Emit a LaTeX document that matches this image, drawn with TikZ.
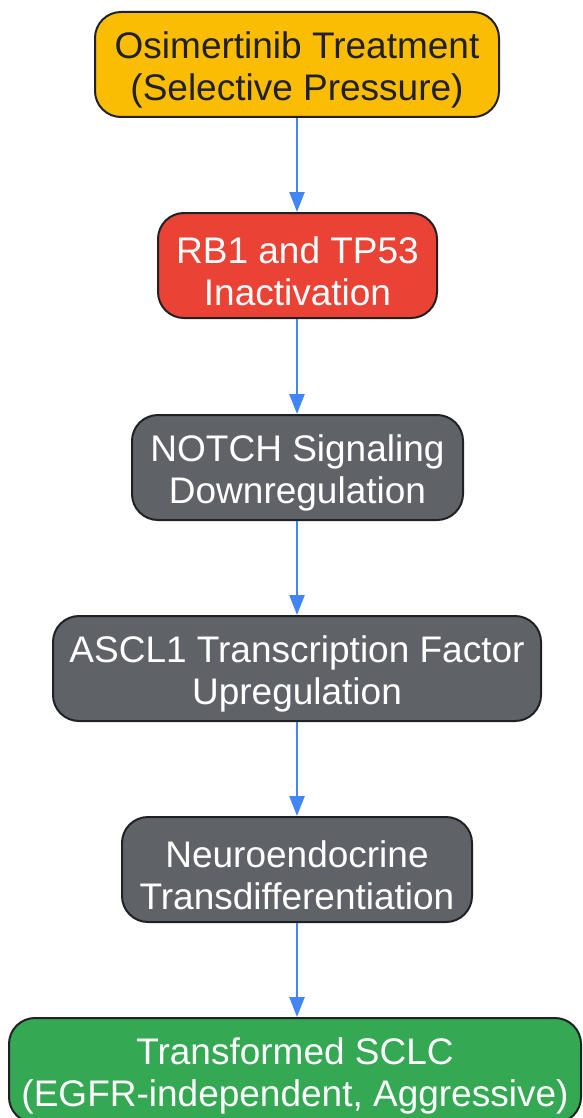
\documentclass[tikz,border=0pt]{standalone}
\usepackage{fontspec}
\setmainfont{Liberation Sans}
\usetikzlibrary{arrows.meta}
\definecolor{cyellow}{HTML}{FBBC04}
\definecolor{cred}{HTML}{EA4335}
\definecolor{cgray}{HTML}{5F6368}
\definecolor{cgreen}{HTML}{34A853}
\definecolor{cblue}{HTML}{4285F4}
\definecolor{cdark}{HTML}{202124}
\newcommand{\topstrut}{\rule{0pt}{38pt}}
\tikzset{
  box/.style={draw=cdark, line width=2pt, rounded corners=26pt, minimum height=105pt,
    align=center, inner sep=0pt, font=\fontsize{37}{42}\selectfont},
  flow/.style={draw=cblue, line width=2.4pt, -{Triangle[length=20pt,width=15pt]}}
}
\begin{document}
\begin{tikzpicture}[x=1pt,y=-1pt]
\useasboundingbox (0,0) rectangle (582,1118);
\node[box, fill=cyellow, text=cdark, minimum width=404pt] (n1) at (297,64.5) {\topstrut Osimertinib Treatment\\(Selective Pressure)};
\node[box, fill=cred, text=white, minimum width=279pt] (n2) at (297.5,265.5) {\topstrut RB1 and TP53\\Inactivation};
\node[box, fill=cgray, text=white, minimum width=331pt] (n3) at (297.5,467.5) {\topstrut NOTCH Signaling\\Downregulation};
\node[box, fill=cgray, text=white, minimum width=488pt] (n4) at (297,668.5) {\topstrut ASCL1 Transcription Factor\\Upregulation};
\node[box, fill=cgray, text=white, minimum width=350pt] (n5) at (297,869.5) {\topstrut Neuroendocrine\\Transdifferentiation};
\node[box, fill=cgreen, text=white, minimum width=572pt] (n6) at (295,1070.5) {\topstrut Transformed SCLC\\(EGFR-independent, Aggressive)};
\draw[flow] (n1.south -| 297,0) -- (n2.north -| 297,0);
\draw[flow] (n2.south -| 297,0) -- (n3.north -| 297,0);
\draw[flow] (n3.south -| 297,0) -- (n4.north -| 297,0);
\draw[flow] (n4.south -| 297,0) -- (n5.north -| 297,0);
\draw[flow] (n5.south -| 297,0) -- (n6.north -| 297,0);
\end{tikzpicture}
\end{document}
